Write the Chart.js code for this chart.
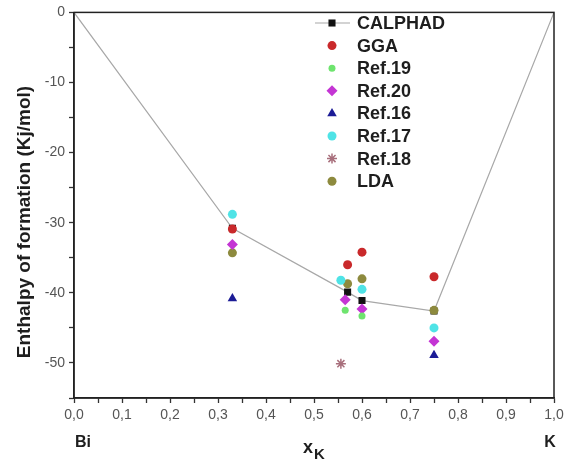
<!DOCTYPE html>
<html>
<head>
<meta charset="utf-8">
<script src="https://cdn.jsdelivr.net/npm/chart.js@4.4.1/dist/chart.umd.min.js"></script>
<style>
  body { margin: 0; background: #fff; }
  #wrap { width: 573px; height: 464px; }
</style>
</head>
<body>
<div id="wrap"><canvas id="myChart" width="573" height="464"></canvas></div>
<script>
// mole fraction of K and enthalpy values (kJ/mol)
const calphadX = [0, 0.33, 0.57, 0.6, 0.75, 1];
const calphadY = [0, -30.8, -39.9, -41.1, -42.6, 0];

const ggaX = [0.33, 0.57, 0.6, 0.75];
const ggaY = [-30.9, -36.0, -34.2, -37.7];

const ref19X = [0.565, 0.6];
const ref19Y = [-42.5, -43.3];

const ref20X = [0.33, 0.565, 0.6, 0.75];
const ref20Y = [-33.1, -41.0, -42.3, -46.9];

const ref16X = [0.33, 0.75];
const ref16Y = [-40.8, -48.9];

const ref17X = [0.33, 0.556, 0.6, 0.75];
const ref17Y = [-28.8, -38.2, -39.5, -45.0];

const ref18X = [0.556];
const ref18Y = [-50.1];

const ldaX = [0.33, 0.57, 0.6, 0.75];
const ldaY = [-34.3, -38.7, -38.0, -42.5];

const xTicks = [0, 0.1, 0.2, 0.3, 0.4, 0.5, 0.6, 0.7, 0.8, 0.9, 1.0];
const yTicks = [0, -10, -20, -30, -40, -50];

const FONT = "'Liberation Sans', Arial, sans-serif";

function pts(xs, ys) {
  return xs.map((x, i) => ({ x: x, y: ys[i] }));
}

function series(label, xs, ys, style, color, radius) {
  return {
    label: label,
    data: pts(xs, ys),
    pointStyle: style,
    pointRadius: radius,
    pointBackgroundColor: color,
    pointBorderColor: color,
    pointBorderWidth: style === 'star' ? 1.5 : 0,
    showLine: false,
    order: 0
  };
}

const datasets = [
  {
    label: 'CALPHAD',
    data: pts(calphadX, calphadY),
    showLine: true,
    borderColor: '#a8a8a8',
    borderWidth: 1.2,
    pointStyle: 'rect',
    pointRadius: calphadX.map((x) => (x === 0 || x === 1 ? 0 : 5)),
    pointBackgroundColor: '#111',
    pointBorderWidth: 0,
    order: 1
  },
  series('GGA', ggaX, ggaY, 'circle', '#c9292b', 4.5),
  series('Ref.19', ref19X, ref19Y, 'circle', '#6ee46e', 3.5),
  series('Ref.20', ref20X, ref20Y, 'rectRot', '#c435d4', 5.5),
  series('Ref.16', ref16X, ref16Y, 'triangle', '#1c1c96', 5.5),
  series('Ref.17', ref17X, ref17Y, 'circle', '#4fe3e6', 4.5),
  series('Ref.18', ref18X, ref18Y, 'star', '#a86f7c', 5),
  series('LDA', ldaX, ldaY, 'circle', '#8d8a3e', 4.5)
];

// frame, legend inside the plot, axis titles and the Bi / K end labels
const extras = {
  id: 'extras',
  afterDraw(chart) {
    const ctx = chart.ctx;
    const a = chart.chartArea;
    const xs = chart.scales.x;
    ctx.save();
    ctx.strokeStyle = '#222';
    ctx.lineWidth = 1.5;
    ctx.strokeRect(a.left, a.top, a.right - a.left, a.bottom - a.top);

    // legend
    const lx = 332, ly = 23, step = 22.6;
    chart.data.datasets.forEach((ds, i) => {
      const y = ly + i * step;
      if (i === 0) {
        ctx.strokeStyle = ds.borderColor;
        ctx.lineWidth = 1.2;
        ctx.beginPath();
        ctx.moveTo(lx - 17, y);
        ctx.lineTo(lx + 18, y);
        ctx.stroke();
      }
      ctx.fillStyle = ds.pointBackgroundColor;
      ctx.strokeStyle = ds.pointBorderColor || ds.pointBackgroundColor;
      ctx.lineWidth = ds.pointBorderWidth || 0;
      const r = Array.isArray(ds.pointRadius) ? 5 : ds.pointRadius;
      Chart.helpers.drawPoint(ctx, {
        pointStyle: ds.pointStyle, radius: r, rotation: 0,
        borderWidth: ds.pointBorderWidth || 0
      }, lx, y);
      ctx.fillStyle = '#1e1e1e';
      ctx.font = 'bold 18px ' + FONT;
      ctx.textAlign = 'left';
      ctx.textBaseline = 'middle';
      ctx.fillText(ds.label, lx + 25, y + 1);
    });

    // y title
    ctx.fillStyle = '#1e1e1e';
    ctx.save();
    ctx.translate(25, 222);
    ctx.rotate(-Math.PI / 2);
    ctx.font = 'bold 19px ' + FONT;
    ctx.textAlign = 'center';
    ctx.textBaseline = 'middle';
    ctx.fillText('Enthalpy of formation (Kj/mol)', 0, 0);
    ctx.restore();

    // element labels at the ends of the axis
    ctx.font = 'bold 16px ' + FONT;
    ctx.textBaseline = 'middle';
    ctx.textAlign = 'left';
    ctx.fillText('Bi', xs.getPixelForValue(0) + 1, 443);
    ctx.textAlign = 'center';
    ctx.fillText('K', xs.getPixelForValue(1) - 4, 443);

    // x title with subscript
    ctx.font = 'bold 18px ' + FONT;
    ctx.textAlign = 'right';
    ctx.fillText('x', 313, 448);
    ctx.font = 'bold 15px ' + FONT;
    ctx.textAlign = 'left';
    ctx.fillText('K', 314, 455);
    ctx.restore();
  }
};

new Chart(document.getElementById('myChart'), {
  type: 'scatter',
  data: { datasets: datasets },
  options: {
    responsive: false,
    animation: false,
    layout: { padding: { top: 10, right: 19, left: 0, bottom: 0 } },
    plugins: {
      legend: { display: false },
      tooltip: { enabled: false }
    },
    scales: {
      x: {
        type: 'linear',
        min: 0,
        max: 1,
        afterFit(s) { s.height = 66; },
        border: { display: true, color: '#222', width: 1.5 },
        grid: { drawOnChartArea: false, drawTicks: true, tickLength: 5, tickColor: '#333', tickWidth: 1.3 },
        ticks: {
          stepSize: 0.05,
          padding: 4,
          color: '#555',
          font: { family: FONT, size: 14 },
          maxRotation: 0,
          autoSkip: false,
          callback(v) {
            const hit = xTicks.find((t) => Math.abs(t - v) < 1e-6);
            return hit === undefined ? '' : hit.toFixed(1).replace('.', ',');
          }
        }
      },
      y: {
        min: -55,
        max: 0,
        afterFit(s) { s.width = 74; },
        border: { display: true, color: '#222', width: 1.5 },
        grid: { drawOnChartArea: false, drawTicks: true, tickLength: 5, tickColor: '#333', tickWidth: 1.3 },
        ticks: {
          stepSize: 5,
          padding: 4,
          color: '#555',
          font: { family: FONT, size: 14 },
          callback(v) {
            const hit = yTicks.find((t) => Math.abs(t - v) < 1e-6);
            return hit === undefined ? '' : String(hit);
          }
        }
      }
    }
  },
  plugins: [extras]
});
</script>
</body>
</html>
